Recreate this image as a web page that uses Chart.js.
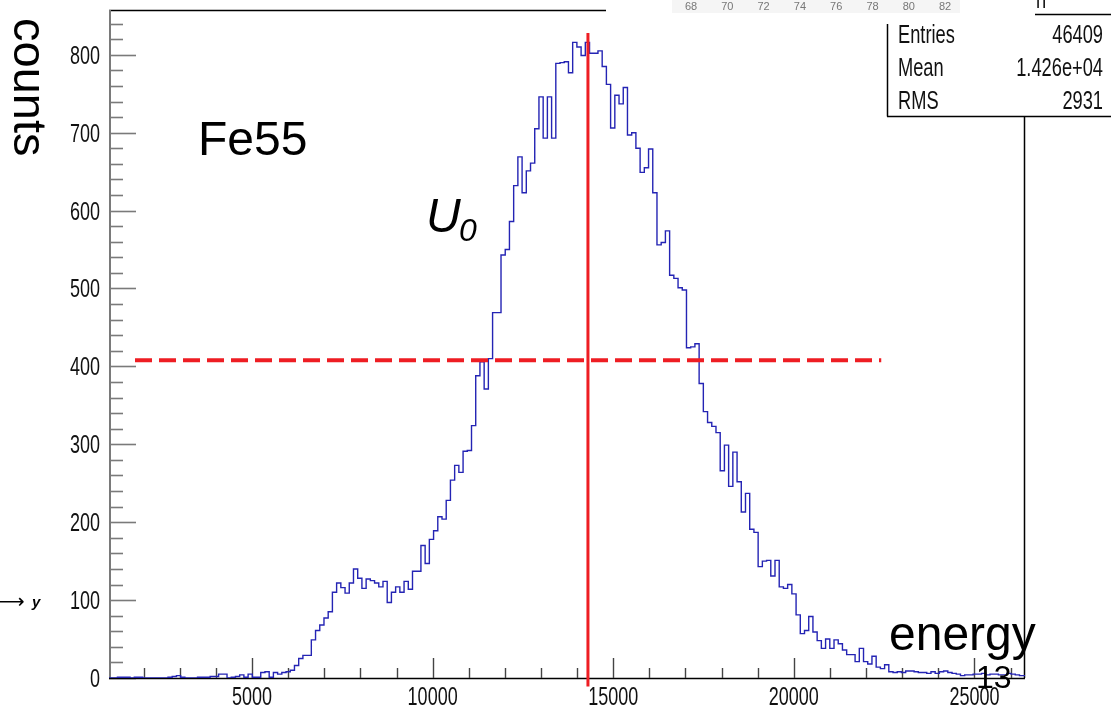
<!DOCTYPE html>
<html>
<head>
<meta charset="utf-8">
<script src="https://cdn.jsdelivr.net/npm/chart.js@4.4.1/dist/chart.umd.min.js"></script>
<style>
  html, body { margin: 0; padding: 0; background: #fff; overflow: hidden; }
  canvas { display: block; }
</style>
</head>
<body>
<canvas id="c" width="1111" height="707"></canvas>
<script>
// Fe55 energy spectrum: counts per energy bin
const xLow = 1040;          // axis range (energy)
const xHigh = 26400;
const binWidth = 116.7;     // histogram bin width
const yMax = 857.5;

const counts = [
  0, 0, 1, 1, 1, 0, 1, 1, 0, 0,
  0, 0, 0, 0, 1, 2, 3, 1, 0, 0,
  0, 1, 1, 1, 2, 2, 5, 5, 0, 1,
  2, 4, 1, 5, 1, 1, 7, 8, 1, 7,
  5, 7, 8, 10, 16, 25, 29, 29, 49, 61,
  68, 77, 85, 110, 122, 116, 109, 122, 140, 128,
  115, 127, 125, 122, 117, 124, 97, 110, 117, 110,
  124, 114, 137, 137, 170, 147, 178, 189, 207, 204,
  228, 254, 273, 264, 291, 292, 324, 388, 406, 371,
  410, 469, 469, 543, 550, 586, 632, 669, 623, 651,
  661, 705, 746, 693, 746, 693, 789, 790, 791, 777,
  816, 810, 799, 816, 802, 802, 805, 785, 762, 706,
  748, 737, 758, 697, 700, 680, 649, 655, 679, 623,
  556, 559, 574, 517, 513, 501, 498, 424, 425, 429,
  378, 342, 328, 323, 315, 266, 299, 246, 290, 252,
  213, 237, 191, 187, 143, 150, 151, 131, 151, 117,
  115, 120, 108, 81, 57, 61, 79, 59, 48, 38,
  50, 38, 49, 44, 36, 30, 30, 21, 38, 21,
  18, 28, 14, 12, 17, 8, 7, 8, 7, 9,
  9, 8, 7, 7, 6, 8, 6, 8, 9, 7,
  6, 5, 3, 4, 4, 5, 5, 6, 4, 5,
  5, 4, 4, 6, 5, 4, 3, 3
];

// reference lines: peak position U0 and the half-height level
const peakEnergy = 14300;
const peakLineSpan = [-11, 828];
const halfLevel = 408;
const halfLineSpan = [1760, 22420];

// axis labels
const yTickLabels = [0, 100, 200, 300, 400, 500, 600, 700, 800];
const xTickLabels = [5000, 10000, 15000, 20000, 25000];
const topStripLabels = ['68', '70', '72', '74', '76', '78', '80', '82'];
const statsRows = [['Entries', '46409'], ['Mean', '1.426e+04'], ['RMS', '2931']];

// step outline: one point per bin low edge, plus the closing edge
const histPoints = counts.map((c, i) => ({ x: xLow + i * binWidth, y: c }));
histPoints.push({ x: xLow + counts.length * binWidth, y: counts[counts.length - 1] });

const FONT = '"Liberation Sans", Arial, sans-serif';

function narrow(ctx, txt, x, y, size, align, color, sx) {
  ctx.save();
  ctx.translate(x, y);
  ctx.scale(sx, 1);
  ctx.font = size + 'px ' + FONT;
  ctx.textAlign = align;
  ctx.textBaseline = 'alphabetic';
  ctx.fillStyle = color;
  ctx.fillText(txt, 0, 0);
  ctx.restore();
}
function seg(ctx, x1, y1, x2, y2) {
  ctx.beginPath(); ctx.moveTo(x1, y1); ctx.lineTo(x2, y2); ctx.stroke();
}

const axesPlugin = {
  id: 'rootAxes',
  beforeDatasetsDraw(chart) {
    const ctx = chart.ctx, a = chart.chartArea;
    const xs = chart.scales.x, ys = chart.scales.y;
    ctx.save();
    // frame
    ctx.strokeStyle = '#000'; ctx.lineWidth = 1.5;
    seg(ctx, a.left, a.top + 0.5, a.right, a.top + 0.5);
    seg(ctx, a.right - 0.5, a.top, a.right - 0.5, a.bottom);
    // y axis with inward ticks
    ctx.strokeStyle = '#7a7a7a'; ctx.lineWidth = 2;
    seg(ctx, a.left + 1, a.top, a.left + 1, a.bottom + 1);
    ctx.lineWidth = 1.6;
    for (let v = 0; v <= yMax; v += 20) {
      const p = Math.round(ys.getPixelForValue(v)) + 0.5;
      seg(ctx, a.left, p, a.left + (v % 100 === 0 ? 27 : 14), p);
    }
    // x axis with inward ticks
    ctx.strokeStyle = '#000'; ctx.lineWidth = 1.6;
    seg(ctx, a.left, a.bottom + 0.5, a.right, a.bottom + 0.5);
    ctx.strokeStyle = '#444'; ctx.lineWidth = 1.4;
    for (let v = 2000; v <= xHigh; v += 1000) {
      const p = Math.round(xs.getPixelForValue(v)) + 0.5;
      seg(ctx, p, a.bottom, p, a.bottom - (v % 5000 === 0 ? 20 : 10));
    }
    // tick labels
    yTickLabels.forEach(v => {
      narrow(ctx, String(v), 100, ys.getPixelForValue(v) + 9, 25, 'right', '#111', 0.72);
    });
    xTickLabels.forEach(v => {
      narrow(ctx, String(v), xs.getPixelForValue(v), 705, 25, 'center', '#111', 0.72);
    });
    ctx.restore();
  },
  afterDraw(chart) {
    const ctx = chart.ctx;
    ctx.save();
    // statistics box
    ctx.fillStyle = '#fff';
    ctx.fillRect(606, 0, 1111 - 606, 13);
    ctx.fillRect(887, 13, 224, 103);
    // strip along the top with small scale numbers
    ctx.fillStyle = '#f5f5f5';
    ctx.fillRect(672, 0, 288, 13);
    topStripLabels.forEach((t, i) => {
      narrow(ctx, t, 691 + 36.3 * i, 10, 11, 'center', '#777', 1);
    });
    ctx.strokeStyle = '#000'; ctx.lineWidth = 1.5;
    seg(ctx, 887.5, 24, 887.5, 116.5);
    seg(ctx, 887, 116.5, 1111, 116.5);
    seg(ctx, 1035, 14.5, 1111, 14.5);
    narrow(ctx, 'h', 1036, 8, 25, 'left', '#111', 0.73);
    statsRows.forEach((r, i) => {
      const base = 43 + 33 * i;
      narrow(ctx, r[0], 898, base, 25, 'left', '#111', 0.73);
      narrow(ctx, r[1], 1103, base, 25, 'right', '#111', 0.73);
    });
    // titles and annotations
    ctx.fillStyle = '#000';
    ctx.font = '48px ' + FONT;
    ctx.textBaseline = 'alphabetic';
    ctx.textAlign = 'left';
    ctx.fillText('Fe55', 198, 155);
    ctx.fillText('energy', 889, 650);
    ctx.font = 'italic 48px ' + FONT;
    ctx.fillText('U', 426, 232);
    ctx.font = 'italic 32px ' + FONT;
    ctx.fillText('0', 459, 241);
    ctx.font = '32px ' + FONT;
    ctx.fillText('13', 976, 688);
    // rotated y title
    ctx.save();
    ctx.translate(14, 18);
    ctx.rotate(Math.PI / 2);
    ctx.font = '47px ' + FONT;
    ctx.fillText('counts', 0, 0);
    ctx.restore();
    // small arrow label at the left edge
    ctx.font = '20px "DejaVu Sans", sans-serif';
    ctx.fillText('\u27f6', -4, 608);
    ctx.font = 'bold italic 15px ' + FONT;
    ctx.fillText('y', 32, 607);
    ctx.restore();
  }
};

new Chart(document.getElementById('c'), {
  type: 'line',
  data: {
    datasets: [
      {
        label: 'U0',
        data: [{ x: peakEnergy, y: peakLineSpan[0] }, { x: peakEnergy, y: peakLineSpan[1] }],
        borderColor: '#ee1d23', borderWidth: 3, pointRadius: 0, clip: false
      },
      {
        label: 'half height',
        data: [{ x: halfLineSpan[0], y: halfLevel }, { x: halfLineSpan[1], y: halfLevel }],
        borderColor: '#ee1d23', borderWidth: 4, borderDash: [17, 7], pointRadius: 0
      },
      {
        label: 'energy',
        data: histPoints,
        borderColor: '#2424b4', borderWidth: 1.4, stepped: 'before',
        pointRadius: 0, fill: false, tension: 0
      }
    ]
  },
  options: {
    responsive: false,
    animation: false,
    devicePixelRatio: 1,
    layout: { padding: { top: 10, right: 86, left: 0, bottom: 0 } },
    plugins: { legend: { display: false }, tooltip: { enabled: false } },
    scales: {
      x: {
        type: 'linear', min: xLow, max: xHigh,
        grid: { display: false }, border: { display: false },
        ticks: { display: false },
        afterFit: s => { s.height = 29; }
      },
      y: {
        type: 'linear', min: 0, max: yMax,
        grid: { display: false }, border: { display: false },
        ticks: { display: false },
        afterFit: s => { s.width = 109; }
      }
    }
  },
  plugins: [axesPlugin]
});
</script>
</body>
</html>
